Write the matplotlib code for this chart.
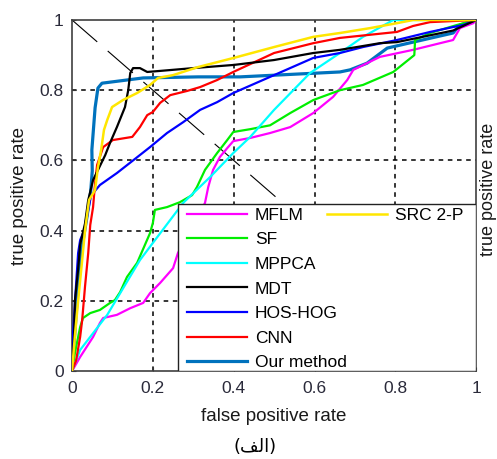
import numpy as np
import matplotlib; matplotlib.use("Agg"); import matplotlib.pyplot as plt
from matplotlib.lines import Line2D
from matplotlib.patches import Rectangle

plt.rcParams['font.family'] = ['Liberation Sans', 'DejaVu Sans']

# ROC curves (false positive rate, true positive rate)
mflm_x = [0, 0.02, 0.052, 0.069, 0.077, 0.111, 0.144, 0.176, 0.193, 0.218, 0.25, 0.262, 0.329, 0.337, 0.349, 0.366, 0.384, 0.399, 0.441, 0.49, 0.54, 0.597, 0.646, 0.681, 0.696, 0.762, 0.844, 0.911, 0.943, 0.96, 0.993, 1]
mflm_y = [0, 0.04, 0.097, 0.137, 0.151, 0.16, 0.179, 0.194, 0.222, 0.251, 0.293, 0.336, 0.479, 0.524, 0.573, 0.61, 0.635, 0.655, 0.664, 0.678, 0.695, 0.735, 0.781, 0.829, 0.858, 0.895, 0.915, 0.934, 0.943, 0.977, 0.991, 1]
sf_x = [0, 0.007, 0.02, 0.027, 0.045, 0.069, 0.094, 0.106, 0.119, 0.136, 0.161, 0.193, 0.2, 0.205, 0.235, 0.267, 0.297, 0.309, 0.329, 0.359, 0.384, 0.399, 0.441, 0.49, 0.54, 0.597, 0.663, 0.72, 0.795, 0.847, 0.849, 0.886, 0.953, 1]
sf_y = [0, 0.051, 0.125, 0.151, 0.165, 0.174, 0.194, 0.202, 0.225, 0.268, 0.308, 0.393, 0.422, 0.459, 0.467, 0.481, 0.501, 0.524, 0.573, 0.621, 0.658, 0.681, 0.689, 0.70, 0.735, 0.772, 0.80, 0.815, 0.852, 0.90, 0.943, 0.963, 0.986, 1]
mppca_x = [0, 0.02, 0.087, 0.168, 0.2, 0.275, 0.342, 0.399, 0.441, 0.5, 0.589, 0.663, 0.72, 0.795, 1]
mppca_y = [0, 0.06, 0.16, 0.316, 0.365, 0.479, 0.553, 0.621, 0.667, 0.744, 0.849, 0.906, 0.952, 1.0, 1]
mdt_x = [0, 0.005, 0.007, 0.015, 0.02, 0.032, 0.04, 0.052, 0.082, 0.094, 0.111, 0.131, 0.139, 0.144, 0.151, 0.168, 0.186, 0.218, 0.3, 0.4, 0.5, 0.597, 0.663, 0.762, 0.804, 0.943, 1]
mdt_y = [0, 0.10, 0.20, 0.29, 0.36, 0.42, 0.487, 0.544, 0.615, 0.65, 0.695, 0.752, 0.80, 0.849, 0.863, 0.863, 0.852, 0.855, 0.863, 0.872, 0.886, 0.906, 0.915, 0.934, 0.937, 0.97, 1]
hog_x = [0, 0.002, 0.007, 0.015, 0.02, 0.032, 0.04, 0.047, 0.069, 0.111, 0.151, 0.193, 0.235, 0.275, 0.317, 0.359, 0.399, 0.5, 0.597, 0.663, 0.72, 0.804, 0.886, 0.968, 1]
hog_y = [0, 0.097, 0.194, 0.336, 0.373, 0.407, 0.459, 0.50, 0.53, 0.564, 0.60, 0.638, 0.678, 0.709, 0.744, 0.766, 0.792, 0.843, 0.892, 0.906, 0.923, 0.943, 0.966, 0.986, 1]
cnn_x = [0, 0.01, 0.02, 0.025, 0.032, 0.04, 0.045, 0.052, 0.057, 0.062, 0.077, 0.101, 0.149, 0.168, 0.186, 0.2, 0.218, 0.243, 0.285, 0.317, 0.359, 0.399, 0.5, 0.597, 0.663, 0.804, 0.844, 0.886, 1]
cnn_y = [0, 0.03, 0.097, 0.145, 0.24, 0.336, 0.416, 0.467, 0.536, 0.587, 0.638, 0.658, 0.667, 0.695, 0.729, 0.738, 0.764, 0.786, 0.798, 0.809, 0.829, 0.852, 0.906, 0.934, 0.949, 0.966, 0.983, 0.994, 1]
ours_x = [0, 0.02, 0.037, 0.046, 0.05, 0.049, 0.057, 0.064, 0.074, 0.176, 0.312, 0.416, 0.663, 0.688, 0.73, 0.78, 0.844, 0.943, 0.96, 1]
ours_y = [0, 0.32, 0.44, 0.51, 0.57, 0.63, 0.75, 0.806, 0.82, 0.835, 0.838, 0.838, 0.852, 0.858, 0.877, 0.92, 0.937, 0.963, 0.986, 1]
src_x = [0, 0.007, 0.015, 0.025, 0.032, 0.042, 0.057, 0.064, 0.072, 0.079, 0.087, 0.099, 0.126, 0.161, 0.193, 0.213, 0.25, 0.312, 0.4, 0.5, 0.597, 0.663, 0.738, 0.804, 0.844, 1]
src_y = [0, 0.10, 0.20, 0.316, 0.40, 0.487, 0.516, 0.58, 0.63, 0.687, 0.715, 0.752, 0.772, 0.792, 0.815, 0.835, 0.843, 0.866, 0.892, 0.923, 0.952, 0.963, 0.977, 0.991, 1.0, 1]

ticks = [0, 0.2, 0.4, 0.6, 0.8, 1]
tick_labels = ["0", "0.2", "0.4", "0.6", "0.8", "1"]

fig = plt.figure(figsize=(4.97, 4.59), dpi=100)
ax = fig.add_axes([0.145, 0.1917, 0.813, 0.7647])

for v in ticks[1:-1]:
    ax.axvline(v, color="k", lw=1.1, ls=(0, (3, 3)), zorder=1)
    ax.axhline(v, color="k", lw=1.1, ls=(0, (3, 3)), zorder=1)
ax.plot([0, 1], [1, 0], color="k", lw=0.8, ls=(0, (30, 12.5)), zorder=1.5)

h_ours, = ax.plot(ours_x, ours_y, color="#0072BD", lw=2.3, zorder=2)
h_mflm, = ax.plot(mflm_x, mflm_y, color="#FF00FF", lw=1.6, zorder=3)
h_sf, = ax.plot(sf_x, sf_y, color="#00EE00", lw=1.6, zorder=3)
h_mppca, = ax.plot(mppca_x, mppca_y, color="#00FFFF", lw=1.6, zorder=3)
h_hog, = ax.plot(hog_x, hog_y, color="#0000FF", lw=1.6, zorder=3)
h_cnn, = ax.plot(cnn_x, cnn_y, color="#FF0000", lw=1.6, zorder=3)
h_mdt, = ax.plot(mdt_x, mdt_y, color="#000000", lw=1.6, zorder=3)
h_src, = ax.plot(src_x, src_y, color="#FFE600", lw=1.8, zorder=3)

ax.set_xlim(0, 1); ax.set_ylim(0, 1)
ax.set_xticks(ticks); ax.set_xticklabels(tick_labels)
ax.set_yticks(ticks); ax.set_yticklabels(tick_labels)
ax.tick_params(direction="in", length=3, labelsize=12.5, labelcolor="#2a2a3a", color="#333")
ax.tick_params(axis="x", pad=7); ax.tick_params(axis="y", pad=6)
for s in ax.spines.values():
    s.set_color("#404040"); s.set_linewidth(1.2)
ax.set_xlabel("false positive rate", fontsize=13.5, labelpad=8.5, color="#1a1a1a")
ax.set_ylabel("true positive rate", fontsize=13.5, labelpad=8, color="#1a1a1a")

# legend frame spans the lower right part of the axes
ax.add_patch(Rectangle((0.262, 0), 0.738, 0.476, transform=ax.transAxes, fc="white",
                       ec="#222", lw=1.0, zorder=4))
blank = Line2D([], [], color="none")
handles = [h_mflm, h_sf, h_mppca, h_mdt, h_hog, h_cnn, h_ours, h_src] + [blank] * 6
labels = ["MFLM", "SF", "MPPCA", "MDT", "HOS-HOG", "CNN", "Our method", "SRC 2-P"] + [""] * 6
leg = ax.legend(handles, labels, loc="upper left", bbox_to_anchor=(0.2847, 0.465), ncol=2,
                fontsize=12.5, handlelength=3.45, handletextpad=0.46, columnspacing=-1.15,
                labelspacing=0.54, borderpad=0, borderaxespad=0, frameon=False)
leg.set_zorder(5)

fig.text(255 / 497, 1 - 447 / 459, "(\uFED2\uFEDF\uFE8D)", fontsize=13, ha="center", va="center",
         family=["DejaVu Sans"])
fig.text(480 / 497, 1 - 189 / 459, "true positive rate", fontsize=13, rotation=90, ha="left",
         va="center", color="#1a1a1a")

fig.savefig("out.png", dpi=100)
